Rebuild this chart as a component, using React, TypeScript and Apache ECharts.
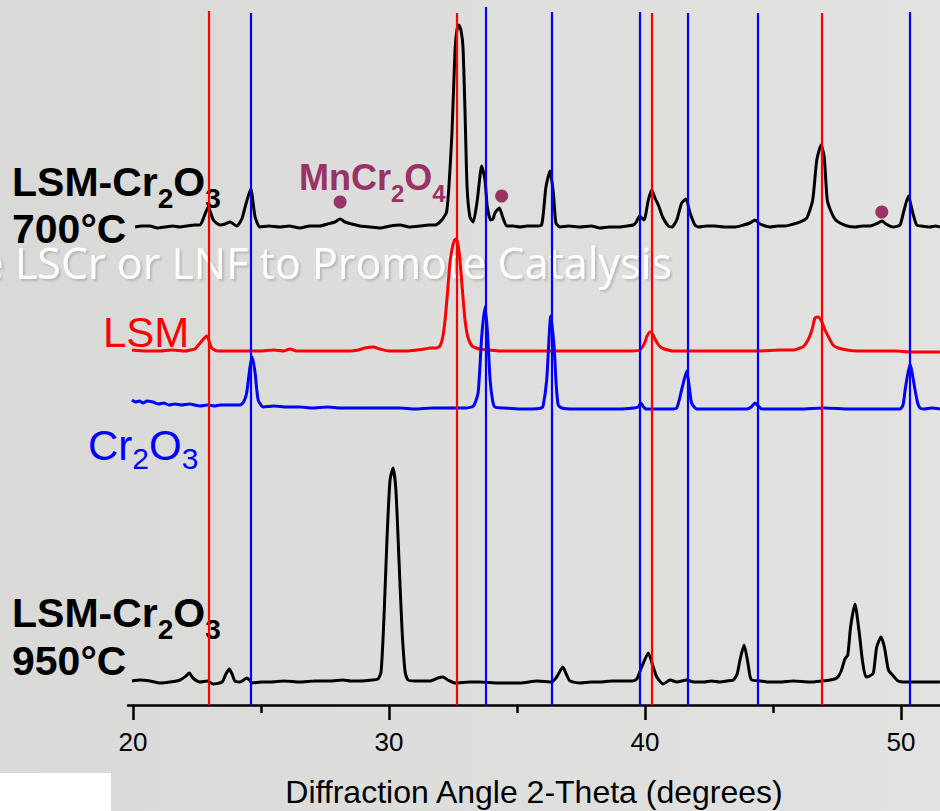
import React, { useEffect, useRef } from "react";
import * as echarts from "echarts";

const FONT = "'Liberation Sans', Arial, Helvetica, sans-serif";

// ---- axis ----
const xMin = 19.805;
const xMax = 51.523;
const majorTicks = [20, 30, 40, 50];
const minorTicks = [25, 35, 45];
const axisTitle = "Diffraction Angle 2-Theta (degrees)";

// ---- reference peak positions (2-theta) ----
const lsmRefPeaks = [22.94, 32.64, 40.27, 46.91];
const lsmRefTops = [694, 692, 692, 692];
const cr2o3RefPeaks = [24.6, 33.79, 36.37, 39.8, 41.68, 44.41, 50.35];
const cr2o3RefTops = [692, 698, 693, 693, 692, 692, 693];

// ---- stacking offsets (a.u.) ----
const offset700 = 478;
const offsetLSM = 354;
const offsetCr2O3 = 296;
const offset950 = 23;

// ---- patterns: [2theta, intensity above own baseline] ----
const lsmCr700 = [
  [20.08, 0], [20.35, 1], [20.66, 1], [20.95, -1], [21.25, 0], [21.55, 1], [21.84, 0], [22.1, 1], [22.42, 2], [22.62, 2],
  [22.77, 10], [22.94, 20], [23.14, 7], [23.4, 2], [23.6, 3], [23.79, 5], [24.05, 1], [24.25, 8], [24.38, 20], [24.6, 38],
  [24.77, 10], [24.96, 0], [25.3, 1], [25.74, 0], [26.1, 1], [26.52, -1], [26.9, 1], [27.3, 1], [27.6, 3], [27.89, 5],
  [28.09, 8], [28.28, 5], [28.55, 3], [28.87, 1], [29.25, 0], [29.65, -1], [30.05, 1], [30.43, 2], [30.8, 0], [31.21, 1],
  [31.55, 2], [31.8, 2], [31.99, 5], [32.12, 9], [32.25, 15], [32.34, 40], [32.46, 94], [32.58, 177], [32.66, 198], [32.73, 202],
  [32.81, 197], [32.89, 180], [32.97, 115], [33.05, 40], [33.16, 10], [33.29, 5], [33.45, 27], [33.62, 61], [33.75, 47], [33.84, 20],
  [33.97, 7], [34.06, 8], [34.14, 14], [34.31, 19], [34.44, 10], [34.6, 1], [34.85, 1], [35.12, 0], [35.4, 1], [35.7, 1],
  [35.96, 2], [36.13, 40], [36.29, 56], [36.42, 34], [36.52, 4], [36.68, 0], [37.0, 1], [37.46, 0], [37.9, 1], [38.24, -1],
  [38.6, 0], [39.02, 0], [39.3, 1], [39.54, 2], [39.66, 5], [39.79, 11], [39.96, 7], [40.13, 27], [40.26, 37], [40.39, 29],
  [40.52, 22], [40.69, 10], [40.91, 1], [41.05, 0], [41.24, 7], [41.43, 24], [41.6, 28], [41.76, 14], [41.95, 2], [42.1, 0],
  [42.4, 1], [42.73, 1], [43.1, 0], [43.52, 0], [43.85, 2], [44.1, 4], [44.3, 7], [44.49, 3], [44.7, 1], [44.88, 0],
  [45.2, 1], [45.47, 1], [45.8, 3], [46.05, 5], [46.32, 9], [46.55, 27], [46.71, 67], [46.88, 82], [47.0, 70], [47.12, 27],
  [47.29, 14], [47.45, 7], [47.62, 4], [47.9, 1], [48.2, 0], [48.5, 1], [48.79, 1], [49.1, 4], [49.26, 6], [49.41, 3],
  [49.69, 0], [49.96, 2], [50.09, 14], [50.29, 31], [50.46, 14], [50.61, 2], [50.8, 1], [51.13, 0], [51.35, 1], [51.52, 0],
];

const lsm = [
  [19.96, 1], [20.5, 0], [21.05, 0], [21.5, 1], [22.03, 0], [22.25, 1], [22.42, 2], [22.62, 8], [22.88, 15], [23.07, 3],
  [23.3, 0], [23.7, 0], [24.18, 0], [24.6, 0], [24.96, 0], [25.5, 1], [25.9, 0], [26.13, 2], [26.4, 0], [26.7, 0],
  [27.3, 0], [27.9, 0], [28.48, 0], [28.8, 1], [29.06, 3], [29.38, 4], [29.65, 2], [30.0, 0], [30.23, 0], [30.7, 0],
  [31.09, 1], [31.4, 2], [31.6, 3], [31.85, 3], [31.99, 5], [32.1, 14], [32.19, 31], [32.29, 60], [32.38, 88], [32.48, 104],
  [32.56, 111], [32.62, 112], [32.7, 106], [32.77, 91], [32.87, 60], [32.97, 31], [33.08, 14], [33.24, 5], [33.4, 3], [33.55, 2],
  [33.9, 1], [34.34, 0], [35.1, 0], [35.9, 0], [36.7, 0], [37.46, 0], [38.3, 0], [39.02, 0], [39.5, 0], [39.8, 1],
  [39.92, 5], [40.0, 9], [40.08, 15], [40.2, 19], [40.3, 17], [40.39, 12], [40.5, 7], [40.6, 4], [40.75, 2], [40.9, 1],
  [41.09, 0], [41.6, 0], [42.15, 0], [43.0, 0], [43.71, 0], [44.5, 0], [45.27, 1], [45.8, 1], [46.05, 3], [46.17, 4],
  [46.37, 11], [46.52, 21], [46.64, 33], [46.76, 34], [46.91, 29], [47.03, 21], [47.23, 11], [47.34, 6], [47.55, 3], [47.89, 1],
  [48.3, 0], [49.18, 0], [49.8, 0], [50.35, -1], [51.0, -1], [51.52, -1],
];

const cr2o3 = [
  [19.96, 9], [20.1, 7], [20.25, 8], [20.39, 6], [20.55, 8], [20.78, 7], [21.0, 5], [21.2, 6], [21.4, 4], [21.64, 5],
  [21.9, 4], [22.2, 5], [22.62, 3], [22.9, 4], [23.2, 3], [23.4, 4], [23.7, 4], [24.0, 4], [24.18, 4], [24.32, 7],
  [24.44, 16], [24.57, 42], [24.66, 52], [24.77, 36], [24.89, 9], [25.09, 2], [25.5, 3], [26.0, 2], [26.52, 2], [27.0, 1],
  [27.6, 2], [28.09, 1], [28.6, 1], [29.14, 1], [29.8, 1], [30.43, 1], [31.0, 0], [31.72, 1], [32.4, 1], [33.0, 1],
  [33.3, 3], [33.48, 16], [33.62, 72], [33.75, 102], [33.84, 79], [33.95, 29], [34.05, 8], [34.14, 2], [34.5, 1], [35.12, 0],
  [35.6, 0], [35.95, 1], [36.02, 3], [36.16, 29], [36.32, 93], [36.45, 62], [36.53, 25], [36.61, 4], [36.75, 1], [37.2, 0],
  [38.24, 0], [39.0, 0], [39.55, 1], [39.73, 2], [39.84, 6], [39.94, 2], [40.04, 0], [40.5, 0], [41.0, 0], [41.24, 1],
  [41.43, 19], [41.63, 38], [41.73, 22], [41.82, 6], [42.02, 0], [43.0, 0], [43.98, 0], [44.15, 2], [44.3, 6], [44.42, 3],
  [44.57, 0], [45.2, 0], [46.05, 0], [47.0, 1], [48.01, 0], [49.0, 0], [49.96, 0], [50.08, 4], [50.16, 19], [50.35, 45],
  [50.55, 19], [50.65, 6], [50.74, 1], [50.9, 0], [51.2, 1], [51.52, 0],
];

const lsmCr950 = [
  [19.96, 1], [20.27, 2], [20.66, 1], [21.05, -1], [21.45, 0], [21.84, 2], [22.07, 6], [22.2, 9], [22.34, 4], [22.62, 0],
  [22.9, 1], [23.13, -2], [23.48, 0], [23.63, 8], [23.76, 13], [23.87, 8], [23.98, 1], [24.18, 0], [24.32, 2], [24.44, 4],
  [24.55, 2], [24.65, -1], [25.0, 0], [25.35, 0], [25.9, 1], [26.52, 0], [27.1, 1], [27.7, 1], [28.2, 2], [28.5, 1],
  [28.87, 1], [29.34, 2], [29.57, 3], [29.69, 10], [29.8, 62], [29.92, 142], [30.04, 202], [30.16, 214], [30.27, 192], [30.39, 122],
  [30.51, 52], [30.63, 10], [30.74, 2], [31.02, 1], [31.6, 1], [31.91, 4], [32.11, 5], [32.3, 2], [32.58, -1], [33.16, 0],
  [33.55, 0], [34.3, -1], [35.12, -1], [35.8, 1], [36.36, 0], [36.55, 5], [36.79, 15], [36.94, 7], [37.07, 1], [37.46, -1],
  [37.9, 0], [38.24, 0], [38.7, 1], [39.02, 1], [39.5, 1], [39.68, 3], [39.87, 15], [40.13, 29], [40.32, 15], [40.46, 5],
  [40.71, -2], [40.98, 2], [41.24, 0], [41.63, 2], [41.9, 0], [42.3, 0], [42.6, 1], [42.93, 0], [43.2, 1], [43.45, 2],
  [43.6, 8], [43.71, 22], [43.87, 37], [44.0, 22], [44.1, 6], [44.17, 2], [44.5, 1], [44.8, 0], [45.27, 0], [45.8, 1],
  [46.45, 0], [46.9, 1], [47.23, 2], [47.49, 4], [47.65, 10], [47.81, 23], [47.92, 27], [48.03, 55], [48.2, 78], [48.37, 49],
  [48.5, 20], [48.63, 5], [48.78, 6], [48.92, 9], [49.05, 35], [49.22, 45], [49.35, 35], [49.51, 12], [49.7, 6], [49.89, 1],
  [50.1, 0], [50.35, 0], [50.94, 0], [51.52, 0],
];

// MnCr2O4 markers: [2theta, height above the 700 °C baseline]
const mnCr2O4Markers = [[28.09, 25], [34.4, 31], [49.25, 15]];

const shift = (data: number[][], off: number) => data.map(([x, y]) => [x, y + off]);

function formula(
  x: number,
  baseline: number,
  parts: [string, boolean][],
  main: number,
  sub: number,
  drop: number,
  color: string,
  weight: string
) {
  // main token top-aligned, subscript token bottom-aligned in a taller line
  const L = drop + 0.8465 * main + 0.1535 * sub;
  const text = parts.map(([t, s]) => `{${s ? "s" : "m"}|${t}}`).join("");
  return {
    type: "text",
    x,
    y: baseline - 0.8465 * main,
    z: 1,
    silent: true,
    style: {
      text,
      align: "left",
      verticalAlign: "top",
      rich: {
        m: { fontSize: main, fontFamily: FONT, fontWeight: weight, fill: color, lineHeight: main, verticalAlign: "top" },
        s: { fontSize: sub, fontFamily: FONT, fontWeight: weight, fill: color, lineHeight: L, verticalAlign: "bottom" },
      },
    },
  };
}

function plainText(x: number, baseline: number, text: string, size: number, color: string, weight: string) {
  return {
    type: "text",
    x,
    y: baseline - 0.3465 * size,
    z: 1,
    silent: true,
    style: { text, fontSize: size, fontFamily: FONT, fontWeight: weight, fill: color, align: "left", verticalAlign: "middle" },
  };
}

const refMarkLine = (peaks: number[], tops: number[], color: string) => ({
  silent: true,
  symbol: ["none", "none"],
  label: { show: false },
  emphasis: { disabled: true },
  lineStyle: { color, width: 2.2, type: "solid" },
  data: peaks.map((p, i) => [{ coord: [p, 0] }, { coord: [p, tops[i]] }]),
});

const lineSeries = (name: string, data: number[][], color: string, extra: any = {}) => ({
  name,
  type: "line",
  data,
  symbol: "none",
  showSymbol: false,
  smooth: 0.2,
  silent: true,
  z: 2,
  lineStyle: { color, width: 3 },
  itemStyle: { color },
  emphasis: { disabled: true },
  ...extra,
});

export default function App() {
  const ref = useRef<HTMLDivElement>(null);
  useEffect(() => {
    if (!ref.current) return;
    const chart = echarts.init(ref.current, undefined, { renderer: "svg" });
    const option: any = {
      animation: false,
      backgroundColor: "#dddddb",
      grid: { left: 128, right: 0, top: 0, bottom: 106, containLabel: false, outerBoundsMode: "none" },
      xAxis: [
        {
          type: "value",
          min: xMin,
          max: xMax,
          position: "bottom",
          axisLine: { show: true, onZero: false, lineStyle: { color: "#000", width: 2.5 } },
          axisTick: { show: true, customValues: majorTicks, length: 15, lineStyle: { color: "#000", width: 2.5 } },
          axisLabel: { show: true, customValues: majorTicks, fontSize: 26, color: "#000", fontFamily: FONT, margin: 24 },
          splitLine: { show: false },
          name: axisTitle,
          nameLocation: "middle",
          nameGap: 71,
          nameTextStyle: { fontSize: 32, color: "#000", fontFamily: FONT },
        },
        {
          type: "value",
          min: xMin,
          max: xMax,
          position: "bottom",
          axisLine: { show: false },
          axisTick: { show: true, customValues: minorTicks, length: 8, lineStyle: { color: "#000", width: 2.5 } },
          axisLabel: { show: false },
          splitLine: { show: false },
        },
      ],
      yAxis: { type: "value", min: 0, max: 705, show: false },
      series: [
        lineSeries("LSM-Cr2O3 700°C", shift(lsmCr700, offset700), "#000000"),
        lineSeries("LSM", shift(lsm, offsetLSM), "#ff0000", { markLine: refMarkLine(lsmRefPeaks, lsmRefTops, "#ff0000") }),
        lineSeries("Cr2O3", shift(cr2o3, offsetCr2O3), "#0000ff", {
          markLine: refMarkLine(cr2o3RefPeaks, cr2o3RefTops, "#0000ff"),
        }),
        lineSeries("LSM-Cr2O3 950°C", shift(lsmCr950, offset950), "#000000"),
        {
          name: "MnCr2O4",
          type: "scatter",
          data: shift(mnCr2O4Markers, offset700),
          symbol: "circle",
          symbolSize: 13,
          silent: true,
          z: 3,
          itemStyle: { color: "#993366", opacity: 1 },
        },
      ],
      graphic: [
        {
          type: "rect",
          z: -100,
          silent: true,
          shape: { x: 0, y: 0, width: 940, height: 811 },
          style: {
            fill: new echarts.graphic.LinearGradient(0, 0, 1, 0, [
              { offset: 0, color: "#d9d9d7" },
              { offset: 1, color: "#e2e2e0" },
            ]),
          },
        },
        {
          type: "text",
          z: -50,
          silent: true,
          x: 672,
          y: 262,
          style: {
            text: "e LSCr or LNF to Promote Catalysis",
            fontSize: 43,
            fontFamily: "'Open Sans', 'Noto Sans', sans-serif",
            fill: "rgba(255,255,255,0.95)",
            align: "right",
            verticalAlign: "middle",
            textShadowColor: "rgba(0,0,0,0.18)",
            textShadowBlur: 2,
            textShadowOffsetX: 2,
            textShadowOffsetY: 2,
          },
        },
        formula(12, 196, [["LSM-Cr", false], ["2", true], ["O", false], ["3", true]], 41, 28, 12, "#000", "bold"),
        plainText(12, 243, "700°C", 41, "#000", "bold"),
        formula(299, 190, [["MnCr", false], ["2", true], ["O", false], ["4", true]], 36, 24, 12, "#993366", "bold"),
        plainText(103, 347, "LSM", 42, "#ff0000", "normal"),
        formula(88, 460, [["Cr", false], ["2", true], ["O", false], ["3", true]], 42, 30, 9, "#0000ff", "normal"),
        formula(12, 627, [["LSM-Cr", false], ["2", true], ["O", false], ["3", true]], 41, 28, 12, "#000", "bold"),
        plainText(12, 675, "950°C", 41, "#000", "bold"),
        {
          type: "rect",
          z: 200,
          silent: true,
          shape: { x: 0, y: 773, width: 111, height: 38 },
          style: { fill: "#ffffff" },
        },
      ],
    };
    chart.setOption(option);
    return () => chart.dispose();
  }, []);
  return <div ref={ref} style={{ position: "fixed", left: 0, top: 0, width: 940, height: 811 }} />;
}
